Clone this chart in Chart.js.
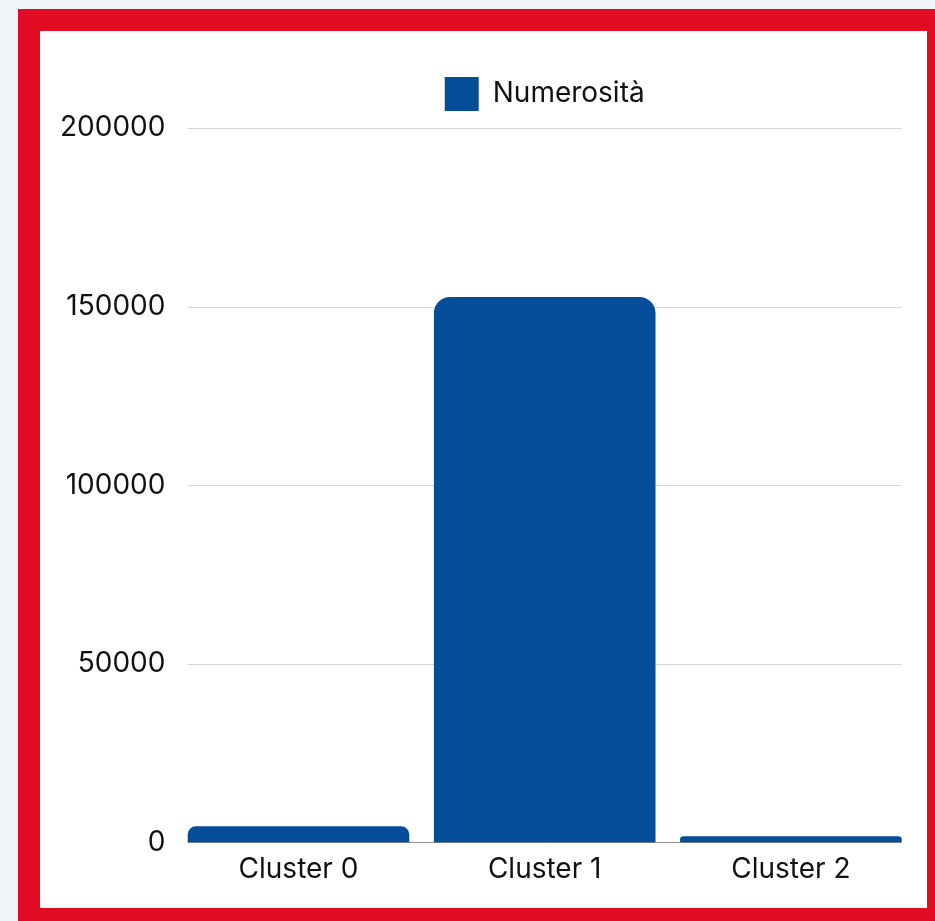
<!DOCTYPE html>
<html lang="it">
<head>
<meta charset="utf-8">
<title>Numerosità per cluster</title>
<script src="https://cdn.jsdelivr.net/npm/chart.js@4.4.1/dist/chart.umd.min.js"></script>
<style>
  html, body {
    margin: 0;
    padding: 0;
    width: 935px;
    height: 921px;
    overflow: hidden;
    background: #f1f4f8;
  }
  .frame {
    position: absolute;
    left: 18px;
    top: 9px;
    width: 887px;
    height: 877px;
    border: 22px solid #e30b23;
    background: #fff;
  }
  .frame canvas {
    display: block;
  }
</style>
</head>
<body>
<div class="frame">
  <canvas id="clusterChart" width="887" height="877"></canvas>
</div>

<script>
  // Cluster sizes
  const clusters = ["Cluster 0", "Cluster 1", "Cluster 2"];
  const counts = [4500, 152700, 1750];
  const yTicks = [0, 50000, 100000, 150000, 200000];

  const BAR_BLUE = "#044e97";
  const FONT = "Inter, 'Liberation Sans', Arial, sans-serif";

  // Horizontal guides drawn only across the bars' span (not the full chart area)
  const guideLines = {
    id: "guideLines",
    beforeDatasetsDraw(chart) {
      const { ctx, scales } = chart;
      const bars = chart.getDatasetMeta(0).data;
      if (!bars.length) return;
      const first = bars[0];
      const last = bars[bars.length - 1];
      const x0 = first.x - first.width / 2;
      const x1 = last.x + last.width / 2;

      ctx.save();
      ctx.lineWidth = 1;
      for (const v of yTicks) {
        const y = Math.round(scales.y.getPixelForValue(v)) + 0.5;
        ctx.strokeStyle = v === 0 ? "#8f8f8f" : "#d6d6d6";
        ctx.beginPath();
        ctx.moveTo(x0, y);
        ctx.lineTo(x1, y);
        ctx.stroke();
      }
      ctx.restore();
    },
  };

  // A bit more room between the legend and the plot
  const legendGap = {
    id: "legendGap",
    beforeInit(chart) {
      const fit = chart.legend.fit;
      chart.legend.fit = function () {
        fit.call(this);
        this.height += 7;
      };
    },
  };

  new Chart(document.getElementById("clusterChart"), {
    type: "bar",
    data: {
      labels: clusters,
      datasets: [
        {
          label: "Numerosità",
          data: counts,
          backgroundColor: BAR_BLUE,
          borderWidth: 0,
          borderRadius: 16,
          borderSkipped: "start",
          categoryPercentage: 1,
          barPercentage: 0.9,
        },
      ],
    },
    options: {
      responsive: false,
      animation: false,
      devicePixelRatio: 1,
      layout: {
        padding: { left: 10, right: 13, top: 36, bottom: 12 },
      },
      plugins: {
        legend: {
          display: true,
          fullSize: false,
          labels: {
            boxWidth: 34,
            boxHeight: 34,
            padding: 10,
            color: "#111",
            font: { family: FONT, size: 28 },
          },
        },
        tooltip: { enabled: false },
      },
      scales: {
        x: {
          grid: { display: false, drawTicks: false },
          border: { display: false },
          ticks: {
            color: "#111",
            padding: 10,
            font: { family: FONT, size: 28 },
          },
        },
        y: {
          min: 0,
          max: 200000,
          afterBuildTicks: (axis) => {
            axis.ticks = yTicks.map((v) => ({ value: v }));
          },
          grid: { display: false, drawTicks: false },
          border: { display: false },
          ticks: {
            color: "#111",
            padding: 10,
            font: { family: FONT, size: 28 },
            callback: (v) => String(v),
          },
        },
      },
    },
    plugins: [guideLines, legendGap],
  });
</script>
</body>
</html>
